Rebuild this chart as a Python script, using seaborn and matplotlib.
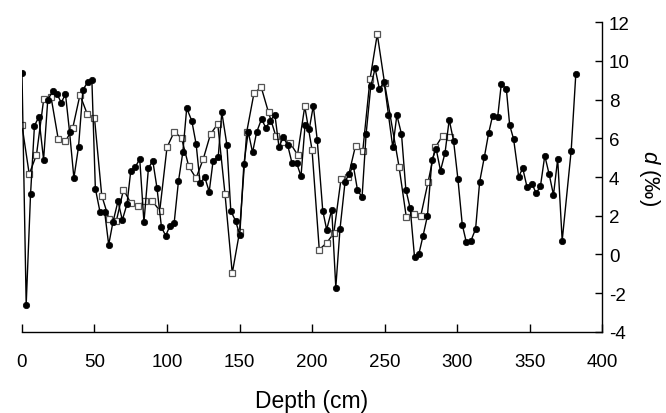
import numpy as np
import pandas as pd
import matplotlib
matplotlib.use("Agg")
import matplotlib.pyplot as plt
import seaborn as sns

# Filled-circle series
depth_a = [0, 2.9, 5.9, 8.6, 11.6, 14.9, 17.8, 21.1, 24, 27.1, 30, 32.8, 35.8, 39, 42, 45.2, 48.2,
           50.6, 53.8, 57, 59.8, 62.7, 66.2, 69.2, 72.4, 75, 78.2, 81.2, 84.1, 87.2, 90.2, 93.1,
           96.2, 99.1, 102.1, 104.9, 107.9, 110.9, 113.6, 117.1, 120.1, 122.8, 126.1, 129.1,
           131.8, 135.3, 137.8, 141.3, 144, 147.3, 150.2, 153, 156, 159, 161.8, 165.2, 168.2,
           171, 174.4, 177.2, 180.2, 183.2, 186.2, 189.4, 192.4, 195.2, 198.1, 200.9, 203.6,
           207.4, 210.1, 213.6, 216.4, 219.3, 222.8, 225.5, 228.5, 231.3, 234.5, 237.3, 240.5,
           243.5, 246.5, 249.7, 252.7, 255.7, 258.5, 261.7, 264.7, 267.7, 270.7, 273.7, 276.5,
           279.6, 282.7, 285.6, 288.6, 291.7, 294.6, 297.6, 300.6, 303.6, 306.4, 309.6, 312.8,
           315.6, 318.8, 321.8, 324.5, 328, 330.5, 334, 336.3, 339, 342.5, 345.3, 348.3, 351.8,
           354.5, 357.5, 360.5, 363.5, 366.5, 369.4, 372.5, 378.7, 381.9]
value_a = [9.4, -2.6, 3.1, 6.65, 7.1, 4.9, 8.0, 8.42, 8.3, 7.85, 8.28, 6.34, 3.95, 5.56, 8.5, 8.89,
           9.02, 3.4, 2.2, 2.2, 0.5, 1.66, 2.75, 1.78, 2.6, 4.3, 4.53, 4.93, 1.66, 4.46, 4.84, 3.43,
           1.4, 0.97, 1.49, 1.6, 3.78, 5.27, 7.56, 6.9, 5.7, 3.69, 3.98, 3.24, 4.84, 5.02, 7.34,
           5.67, 2.25, 1.73, 1.0, 4.65, 6.34, 5.27, 6.31, 7.0, 6.53, 6.9, 7.22, 5.56, 6.05, 5.65,
           4.72, 4.72, 4.04, 6.68, 6.48, 7.68, 5.91, 2.26, 1.28, 2.31, -1.71, 1.32, 3.76, 4.15,
           4.58, 3.35, 2.95, 6.22, 8.68, 9.61, 8.54, 8.92, 7.22, 5.53, 7.2, 6.22, 3.35, 2.38,
           -0.15, 0.03, 0.94, 2.0, 4.89, 5.45, 4.33, 5.24, 6.96, 5.87, 3.9, 1.54, 0.63, 0.71,
           1.32, 3.76, 5.02, 6.27, 7.16, 7.08, 8.8, 8.54, 6.68, 5.96, 4.02, 4.45, 3.47, 3.64,
           3.16, 3.52, 5.1, 4.15, 3.07, 4.93, 0.71, 5.36, 9.32]

# Open-square series
depth_b = [0, 5, 10, 15, 20, 25, 30, 35, 40, 45, 50, 55, 60, 65, 70, 75, 80, 85, 90, 95, 100,
           105, 110, 115, 120, 125, 130, 135, 140, 145, 150, 155, 160, 165, 170, 175, 180, 185,
           190, 195, 200, 205, 210, 215, 220, 225, 230, 235, 240, 245, 250, 260, 265, 270, 275,
           280, 285, 290, 295]
value_b = [6.67, 4.15, 5.15, 8.03, 8.15, 5.96, 5.84, 6.53, 8.25, 7.25, 7.05, 3.04, 1.83, 1.71,
           3.35, 2.66, 2.52, 2.75, 2.75, 2.26, 5.53, 6.34, 6.02, 4.55, 3.94, 4.93, 6.22, 6.74,
           3.12, -0.97, 1.15, 6.34, 8.34, 8.63, 7.34, 6.13, 5.82, 5.75, 5.15, 7.65, 5.41, 0.25,
           0.59, 1.09, 3.9, 4.02, 5.62, 5.36, 9.06, 11.38, 8.86, 4.54, 1.93, 2.09, 2.0, 3.73,
           5.53, 6.13, 6.05]

x_ticks = [0, 50, 100, 150, 200, 250, 300, 350, 400]
y_ticks = [-4, -2, 0, 2, 4, 6, 8, 10, 12]

sns.set_theme(style="ticks")
plt.rcParams['font.family'] = ['Liberation Sans', 'DejaVu Sans']
plt.rcParams['mathtext.fontset'] = 'custom'
plt.rcParams['mathtext.it'] = 'Liberation Sans:italic'
plt.rcParams['mathtext.rm'] = 'Liberation Sans'
plt.rcParams['text.color'] = 'black'
plt.rcParams['axes.labelcolor'] = 'black'
plt.rcParams['xtick.color'] = 'black'
plt.rcParams['ytick.color'] = 'black'

fig = plt.figure(figsize=(6.66, 4.14), dpi=100)
ax = fig.add_axes([0.033, 0.196, 0.871, 0.748])

df_a = pd.DataFrame({"depth": depth_a, "d": value_a})
df_b = pd.DataFrame({"depth": depth_b, "d": value_b})

sns.lineplot(data=df_b, x="depth", y="d", ax=ax, sort=False, color="black", linewidth=1.0,
             marker="s", markersize=4.6, markerfacecolor="white", markeredgecolor="#555555",
             markeredgewidth=0.9, zorder=2)
sns.lineplot(data=df_a, x="depth", y="d", ax=ax, sort=False, color="black", linewidth=1.0,
             marker="o", markersize=4.6, markerfacecolor="black", markeredgecolor="black",
             markeredgewidth=0.5, zorder=3)

ax.set_xlim(0, 400)
ax.set_ylim(-4, 12)
ax.set_xticks(x_ticks)
ax.set_yticks(y_ticks)
ax.set_xticklabels([str(t) for t in x_ticks])
ax.set_yticklabels([str(t) for t in y_ticks])

ax.yaxis.tick_right()
ax.yaxis.set_label_position("right")
for s in ["top", "left"]:
    ax.spines[s].set_visible(False)
for s in ["bottom", "right"]:
    ax.spines[s].set_linewidth(1.0)
    ax.spines[s].set_color("black")

ax.tick_params(axis="x", direction="in", length=6, width=1.0, pad=15, labelsize=13.5,
               colors="black", labelcolor="black")
ax.tick_params(axis="y", direction="in", length=5, width=1.0, pad=5, labelsize=13.5,
               colors="black", labelcolor="black")

ax.set_xlabel("Depth (cm)", fontsize=16.5, labelpad=14, color="black")
ax.set_ylabel("$d$ (‰)", fontsize=16, rotation=270, labelpad=23, color="black")

fig.savefig("out.png", dpi=100)
